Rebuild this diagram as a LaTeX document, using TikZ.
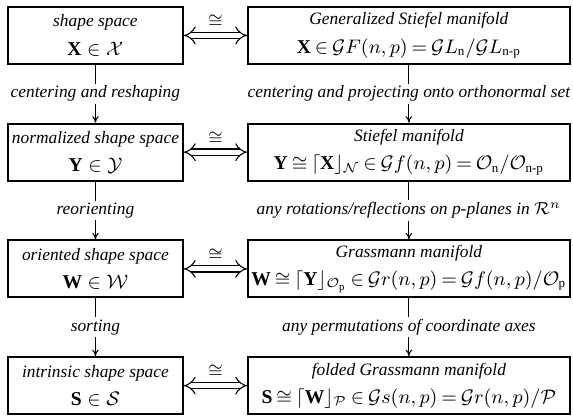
\documentclass[tikz,border=0pt]{standalone}
\usepackage{amsmath,amssymb}
\usepackage{fontspec}
\setmainfont{Liberation Serif}
\usetikzlibrary{positioning, arrows.meta}
\newcommand{\boxtxt}{\fontsize{8}{9.5}\selectfont\itshape}

\begin{document}
\begin{tikzpicture}[
  node distance=53.7pt, on grid,
  spacebox/.style={draw, line width=0.9pt, align=center, minimum height=26.2pt,
    inner sep=1pt, font=\fontsize{9}{10.5}\selectfont},
  leftbox/.style={spacebox, minimum width=80.5pt},
  rightbox/.style={spacebox, minimum width=148pt,
    execute at begin node={\medmuskip=3mu\thickmuskip=3.5mu}},
  flow/.style={-{To[length=3pt,width=3pt]}, line width=0.5pt},
  steplabel/.style={font=\boxtxt, fill=white, inner sep=1pt},
  iso/.style={double, double distance=2.4pt, line width=0.5pt, {Implies}-{Implies}}
]
  \useasboundingbox (0,0) rectangle (263.6pt,-191.8pt);

  % left column: shape spaces
  \node[leftbox] (shape) at (43.9pt,-16.3pt)
    {{\boxtxt shape space}\\[2.5pt] $\mathbf{X}\in\mathcal{X}$};
  \node[leftbox, below=of shape] (norm)
    {{\boxtxt normalized shape space}\\[2.5pt] $\mathbf{Y}\in\mathcal{Y}$};
  \node[leftbox, below=of norm] (orient)
    {{\boxtxt oriented shape space}\\[2.5pt] $\mathbf{W}\in\mathcal{W}$};
  \node[leftbox, below=of orient] (intr)
    {{\boxtxt intrinsic shape space}\\[2.5pt] $\mathbf{S}\in\mathcal{S}$};

  % right column: manifolds
  \node[rightbox, right=144.2pt of shape] (gstiefel)
    {{\boxtxt Generalized Stiefel manifold}\\[2.5pt]
     $\mathbf{X}\in\mathcal{G}F(n,p)=\mathcal{G}L_{\mathrm{n}}/\mathcal{G}L_{\mathrm{n}\text{-}\mathrm{p}}$};
  \node[rightbox, right=144.2pt of norm] (stiefel)
    {{\boxtxt Stiefel manifold}\\[2.5pt]
     $\mathbf{Y}\cong\lceil\mathbf{X}\rfloor_{\mathcal{N}}\in\mathcal{G}f(n,p)=\mathcal{O}_{\mathrm{n}}/\mathcal{O}_{\mathrm{n}\text{-}\mathrm{p}}$};
  \node[rightbox, right=144.2pt of orient] (grass)
    {{\boxtxt Grassmann manifold}\\[2.5pt]
     $\mathbf{W}\cong\lceil\mathbf{Y}\rfloor_{\mathcal{O}_{\mathrm{p}}}\in\mathcal{G}r(n,p)=\mathcal{G}f(n,p)/\mathcal{O}_{\mathrm{p}}$};
  \node[rightbox, right=144.2pt of intr] (fgrass)
    {{\boxtxt folded Grassmann manifold}\\[2.5pt]
     $\mathbf{S}\cong\lceil\mathbf{W}\rfloor_{\mathcal{P}}\in\mathcal{G}s(n,p)=\mathcal{G}r(n,p)/\mathcal{P}$};

  % isomorphisms
  \foreach \l/\r in {shape/gstiefel, norm/stiefel, orient/grass, intr/fgrass}
    \draw[iso] (\l.east) -- (\r.west)
      node[midway, above=3.5pt, inner sep=0pt, font=\footnotesize] {$\cong$};

  % steps on the left
  \draw[flow] (shape) -- (norm) node[midway, steplabel] {centering and reshaping};
  \draw[flow] (norm) -- (orient) node[midway, steplabel] {reorienting};
  \draw[flow] (orient) -- (intr) node[midway, steplabel] {sorting};

  % steps on the right
  \draw[flow] (gstiefel) -- (stiefel)
    node[midway, steplabel] {centering and projecting onto orthonormal set};
  \draw[flow] (stiefel) -- (grass)
    node[midway, steplabel] {any rotations/reflections on p-planes in $\mathcal{R}^n$};
  \draw[flow] (grass) -- (fgrass)
    node[midway, steplabel] {any permutations of coordinate axes};
\end{tikzpicture}
\end{document}
